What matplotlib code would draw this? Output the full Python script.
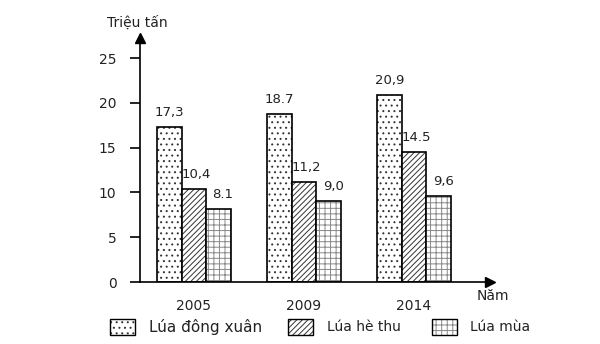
import matplotlib
matplotlib.use("Agg")
import matplotlib.pyplot as plt
from matplotlib.patches import Rectangle
import numpy as np

years = ["2005", "2009", "2014"]
dong_xuan = [17.3, 18.7, 20.9]
he_thu = [10.4, 11.2, 14.5]
lua_mua = [8.1, 9.0, 9.6]
labels_dx = ["17,3", "18.7", "20,9"]
labels_ht = ["10,4", "11,2", "14.5"]
labels_mua = ["8.1", "9,0", "9,6"]
series_names = ["Lúa đông xuân", "Lúa hè thu", "Lúa mùa"]
yticks = [0, 5, 10, 15, 20, 25]

plt.rcParams['font.family'] = ['DejaVu Sans']
plt.rcParams['hatch.linewidth'] = 0.7
txt = '#222222'

fig = plt.figure(figsize=(6, 3.44), dpi=100)
ax = fig.add_axes([140/600, 1-282/344, (490-140)/600, (282-38)/344])

x = np.arange(len(years))
w = 0.225
hatches = ['...', '//////', '+++']
hcolors = ['#333333', '#333333', '#888888']
series = [dong_xuan, he_thu, lua_mua]
labs = [labels_dx, labels_ht, labels_mua]
for i, (vals, h, hc, lb) in enumerate(zip(series, hatches, hcolors, labs)):
    xs = x + (i - 1) * w
    ax.bar(xs, vals, w, facecolor='white', edgecolor=hc, hatch=h, linewidth=0)
    ax.bar(xs, vals, w, facecolor='none', edgecolor='black', linewidth=1.2)
    for xi, v, t in zip(xs, vals, lb):
        ax.text(xi + 0.02 * i, v + 0.9, t, ha='center', va='bottom', fontsize=9.5, color=txt)

ax.set_xlim(-0.49, 2.69)
ax.set_ylim(0, (282-38)/44.8*5)
ax.set_yticks(yticks)
ax.set_yticklabels([str(t) for t in yticks], fontsize=10, color=txt)
ax.set_xticks(x)
ax.set_xticklabels(years, fontsize=10, color=txt)
ax.tick_params(axis='x', length=0, pad=12)
ax.tick_params(axis='y', length=7, width=1.2, pad=10)
for s in ['top', 'right']:
    ax.spines[s].set_visible(False)
for s in ['left', 'bottom']:
    ax.spines[s].set_linewidth(1.2)
ax.plot(0, 1, '^k', transform=ax.transAxes, clip_on=False, markersize=7)
ax.plot(1, 0, '>k', transform=ax.transAxes, clip_on=False, markersize=7)

fig.text(107/600, 1-23/344, "Triệu tấn", fontsize=10, color=txt, va='center', ha='left')
fig.text(477/600, 1-296/344, "Năm", fontsize=10, color=txt, va='center', ha='left')

# legend drawn manually
leg_x = [110, 288, 432]
txt_x = [149, 327, 470]
leg_fs = [11, 10, 10]
for lx, tx, fs, h, hc, name in zip(leg_x, txt_x, leg_fs, hatches, hcolors, series_names):
    fig.patches.append(Rectangle((lx/600, 1-335/344), 25/600, 16/344, transform=fig.transFigure,
                                 facecolor='white', edgecolor=hc, hatch=h, linewidth=0))
    fig.patches.append(Rectangle((lx/600, 1-335/344), 25/600, 16/344, transform=fig.transFigure,
                                 facecolor='none', edgecolor='black', linewidth=1.0))
    fig.text(tx/600, 1-327/344, name, fontsize=fs, color=txt, va='center', ha='left')

fig.savefig("out.png", dpi=100)
